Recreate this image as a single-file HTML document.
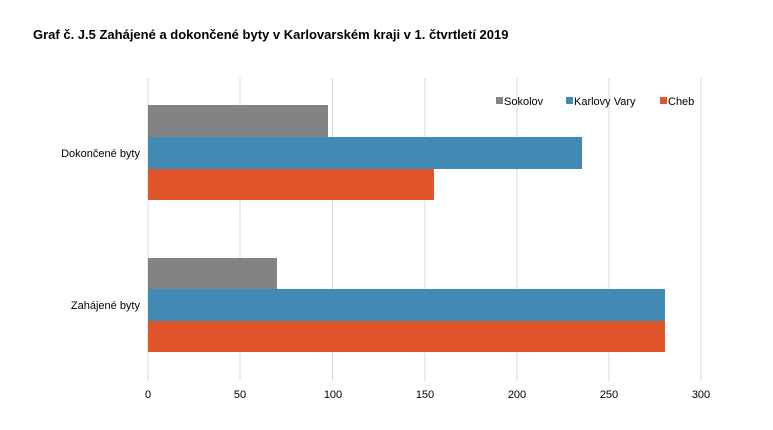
<!DOCTYPE html>
<html><head><meta charset="utf-8"><style>
body{margin:0;background:#fff;font-family:"Liberation Sans",sans-serif;}
</style></head><body>
<svg width="773" height="425" xmlns="http://www.w3.org/2000/svg" font-family="Liberation Sans, sans-serif">
<rect width="773" height="425" fill="#fff"/>
<text x="33" y="39" font-size="13" font-weight="bold" fill="#000">Graf č. J.5 Zahájené a dokončené byty v Karlovarském kraji v 1. čtvrtletí 2019</text>
<g stroke="#d9d9d9" stroke-width="1">
<line x1="148" y1="78" x2="148" y2="381"/>
<line x1="240" y1="78" x2="240" y2="381"/>
<line x1="332.5" y1="78" x2="332.5" y2="381"/>
<line x1="425" y1="78" x2="425" y2="381"/>
<line x1="517" y1="78" x2="517" y2="381"/>
<line x1="609" y1="78" x2="609" y2="381"/>
<line x1="701" y1="78" x2="701" y2="381"/>
</g>
<rect x="148" y="105" width="180" height="32" fill="#838383"/>
<rect x="148" y="137" width="434" height="32" fill="#418ab3"/>
<rect x="148" y="169" width="286" height="31" fill="#e05529"/>
<rect x="148" y="258" width="129" height="31" fill="#838383"/>
<rect x="148" y="289" width="517" height="32" fill="#418ab3"/>
<rect x="148" y="321" width="517" height="31" fill="#e05529"/>
<g font-size="11" fill="#000">
<text x="140" y="157" text-anchor="end">Dokončené  byty</text>
<text x="140" y="309" text-anchor="end">Zahájené byty</text>
<g text-anchor="middle">
<text x="148" y="398">0</text><text x="240" y="398">50</text><text x="333" y="398">100</text>
<text x="425" y="398">150</text><text x="517" y="398">200</text><text x="609" y="398">250</text><text x="701" y="398">300</text>
</g>
<rect x="496" y="97" width="7" height="7" fill="#838383"/><text x="504" y="105">Sokolov</text>
<rect x="566" y="97" width="7" height="7" fill="#418ab3"/><text x="574" y="105">Karlovy Vary</text>
<rect x="660" y="97" width="7" height="7" fill="#e05529"/><text x="668" y="105">Cheb</text>
</g>
</svg>
</body></html>
